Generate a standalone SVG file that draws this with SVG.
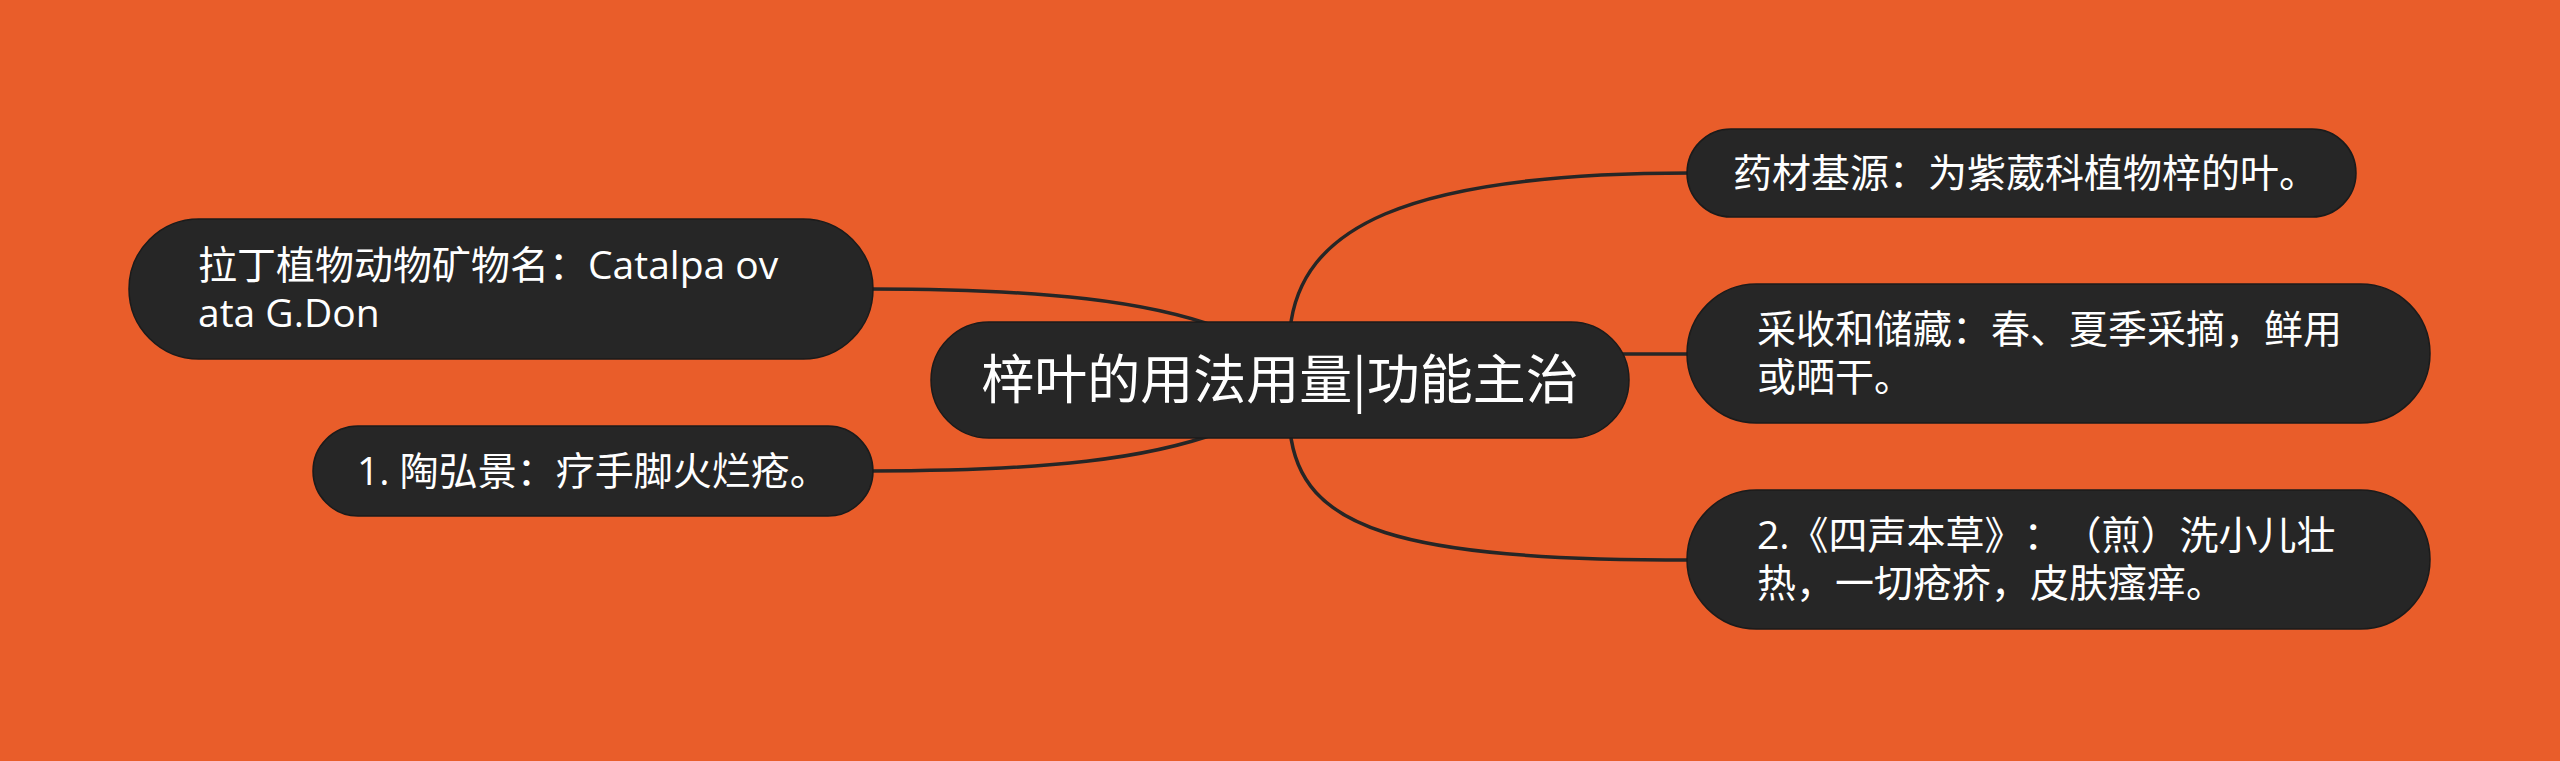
<svg xmlns="http://www.w3.org/2000/svg" width="2560" height="761" viewBox="0 0 2560 761">
<style>
text{text-spacing-trim:space-all}
.node rect{fill:#262626;stroke:#1b1b1b;stroke-width:1.5}
.t{fill:#ffffff;font-family:"Open Sans","Noto Sans CJK SC",sans-serif;font-size:39px}
.tc{fill:#ffffff;font-family:"Noto Sans CJK SC",sans-serif;font-size:53px;text-anchor:middle}
#connectors path{fill:none;stroke:#262626;stroke-width:3.5}
</style>
<rect x="0" y="0" width="2560" height="761" fill="#E95D2A"/>
<g id="connectors">
<path d="M1290,330 C1300,230 1400,173 1690,173"/>
<path d="M1590,354 L1690,354"/>
<path d="M1290,430 C1300,530 1400,560 1690,560"/>
<path d="M870,289 C1050,289 1150,302 1220,328"/>
<path d="M870,471 C1050,471 1150,458 1220,432"/>
</g>
<g id="center" class="node">
<rect x="931" y="322" width="698" height="116" rx="58"/>
<text class="tc" x="1280" y="399">梓叶的用法用量|功能主治</text>
</g>
<g id="n1" class="node">
<rect x="1687" y="129" width="669" height="88" rx="44"/>
<text class="t" x="1733" y="187">药材基源：为紫葳科植物梓的叶。</text>
</g>
<g id="n2" class="node">
<rect x="1687" y="284" width="743" height="139" rx="69.5"/>
<text class="t" x="1757" y="343">采收和储藏：春、夏季采摘，鲜用</text>
<text class="t" x="1757" y="391">或晒干。</text>
</g>
<g id="n3" class="node">
<rect x="1687" y="490" width="743" height="139" rx="69.5"/>
<text class="t" x="1757" y="549">2.《四声本草》：（煎）洗小儿壮</text>
<text class="t" x="1757" y="597">热，一切疮疥，皮肤瘙痒。</text>
</g>
<g id="nA" class="node">
<rect x="129" y="219" width="744" height="140" rx="70"/>
<text class="t" x="198" y="279">拉丁植物动物矿物名：Catalpa ov</text>
<text class="t" x="198" y="327">ata G.Don</text>
</g>
<g id="nB" class="node">
<rect x="313" y="426" width="560" height="90" rx="45"/>
<text class="t" x="357" y="485">1. 陶弘景：疗手脚火烂疮。</text>
</g>
</svg>
